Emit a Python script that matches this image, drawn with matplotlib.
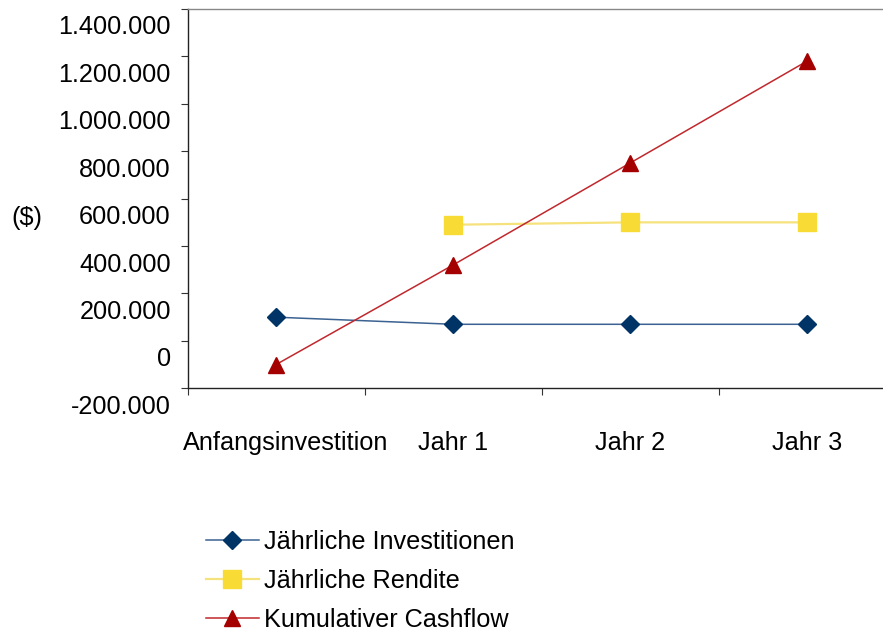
import numpy as np
import matplotlib
matplotlib.use("Agg")
import matplotlib.pyplot as plt
from matplotlib.transforms import ScaledTranslation

plt.rcParams['font.family'] = ['Liberation Sans', 'DejaVu Sans']

# Daten
kategorien = ["Anfangsinvestition", "Jahr 1", "Jahr 2", "Jahr 3"]
investitionen = [100000, 70000, 70000, 70000]
rendite = [np.nan, 490000, 500000, 500000]
cashflow = [-100000, 320000, 750000, 1180000]
y_ticks = [-200000, 0, 200000, 400000, 600000, 800000, 1000000, 1200000, 1400000]
y_labels = ["-200.000", "0", "200.000", "400.000", "600.000", "800.000",
            "1.000.000", "1.200.000", "1.400.000"]

FS = 18.2
W, H = 883, 631
fig = plt.figure(figsize=(W / 100, H / 100), dpi=100)
# Plotbereich (geht rechts etwas ueber den Rand hinaus)
ax = fig.add_axes([187.5 / W, 1 - 388.3 / H, 708 / W, 379.3 / H])

x = np.arange(len(kategorien))
ax.plot(x, investitionen, color="#3b6291", lw=1.1, marker="D", ms=9,
        mfc="#003366", mec="#003366", label="Jährliche Investitionen", zorder=3)
ax.plot(x, rendite, color="#f6e27c", lw=1.6, marker="s", ms=13.5,
        mfc="#f8dc35", mec="#f8dc35", label="Jährliche Rendite", zorder=2)
ax.plot(x, cashflow, color="#c0282d", lw=1.1, marker="^", ms=11.5,
        mfc="#a50000", mec="#a50000", label="Kumulativer Cashflow", zorder=4)

ax.set_xlim(-0.5, 3.5)
ax.set_ylim(-200000, 1400000)

ax.set_yticks(y_ticks)
ax.set_yticklabels(y_labels)
ax.tick_params(axis="y", direction="out", length=5, width=0.8, color="#333333",
               labelsize=FS, pad=7)
# Beschriftungen leicht nach unten versetzt
for lab in ax.get_yticklabels():
    lab.set_transform(lab.get_transform() + ScaledTranslation(0, -16 / 100, fig.dpi_scale_trans))

ax.set_xticks(x)
ax.set_xticklabels(kategorien)
ax.set_xticks(np.arange(-0.5, 4, 1), minor=True)
ax.tick_params(axis="x", which="major", length=0, labelsize=FS, pad=31)
ax.tick_params(axis="x", which="minor", direction="out", length=5, width=0.8, color="#333333")
lab0 = ax.get_xticklabels()[0]
lab0.set_transform(lab0.get_transform() + ScaledTranslation(10 / 100, 0, fig.dpi_scale_trans))

for s in ["left", "bottom"]:
    ax.spines[s].set_color("#222222")
    ax.spines[s].set_linewidth(1.0)
ax.spines["top"].set_color("#888888")
ax.spines["top"].set_linewidth(1.0)
ax.spines["right"].set_visible(False)

fig.text(27 / W, 1 - 218 / H, "($)", fontsize=FS, ha="center", va="center")

handles, labels = ax.get_legend_handles_labels()
fig.legend(handles, labels, loc="upper left", bbox_to_anchor=(193 / W, 1 - 517 / H),
           frameon=False, fontsize=FS, borderpad=0, handlelength=2.1,
           handletextpad=0.2, labelspacing=0.6)

fig.savefig("out.png", dpi=100)
